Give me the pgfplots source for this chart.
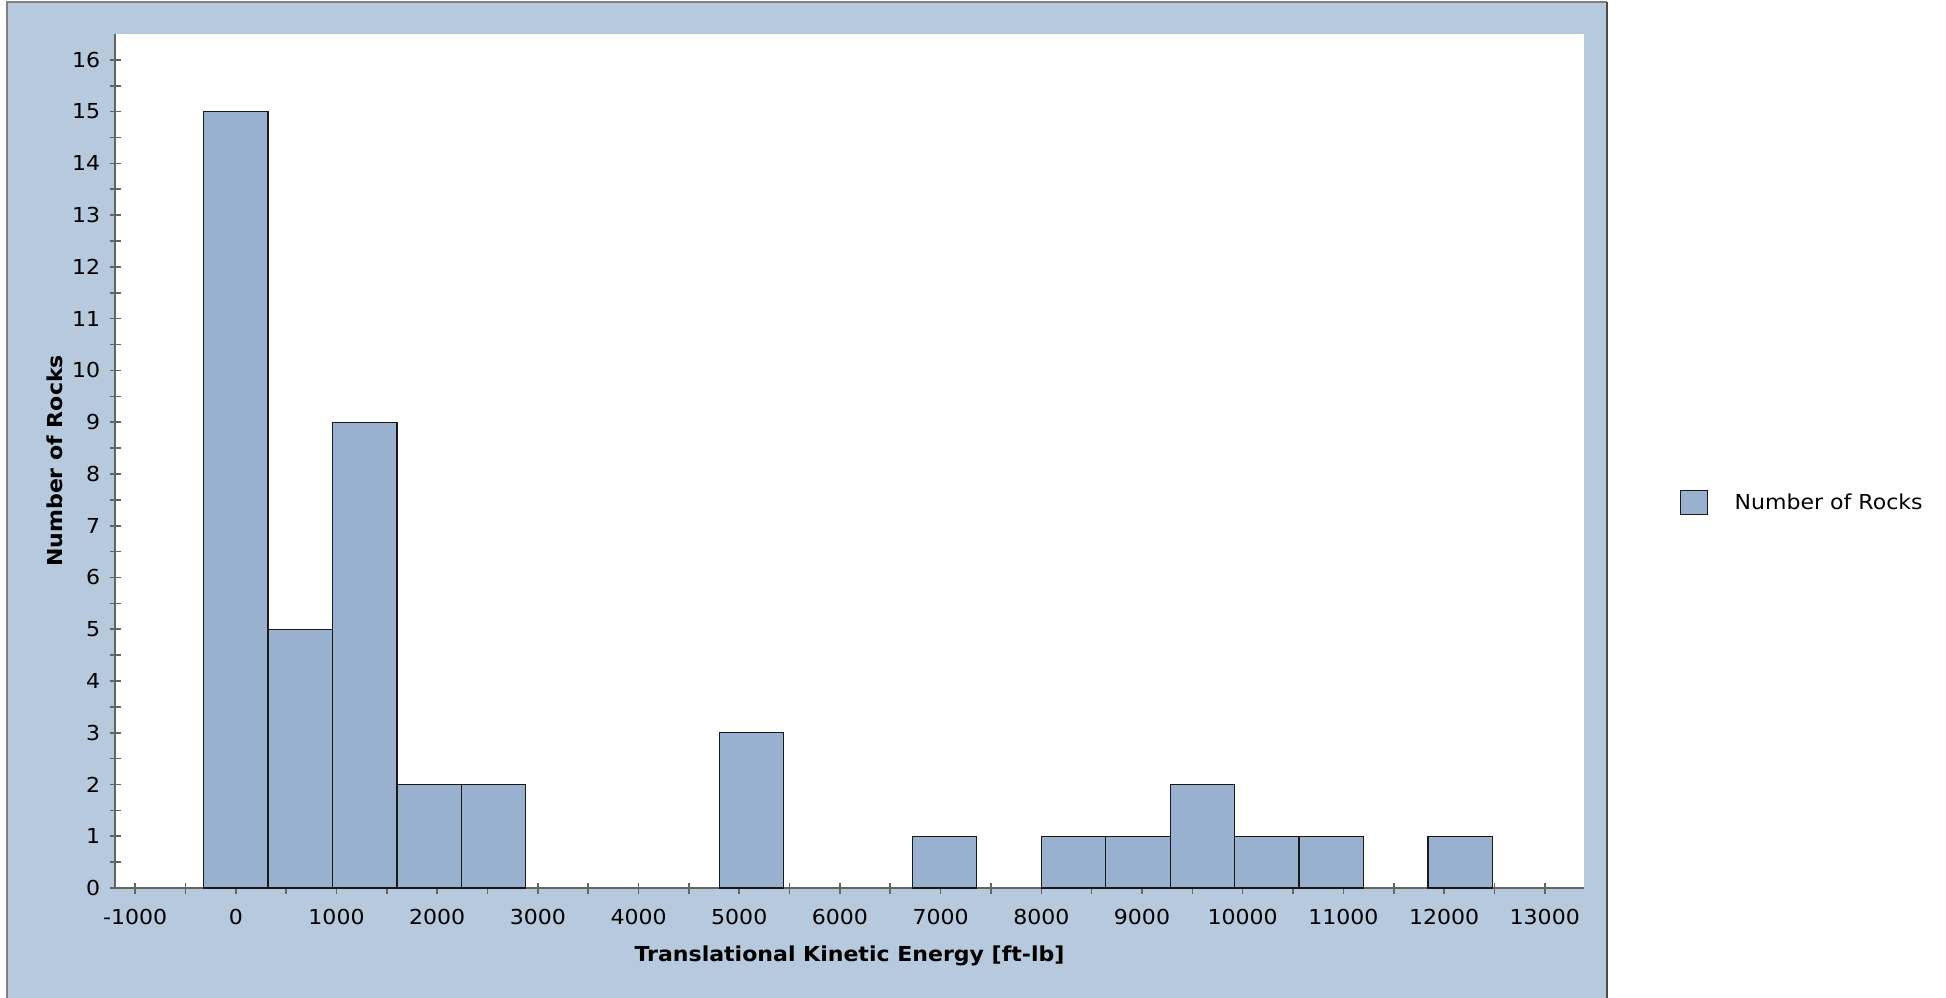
\documentclass[border=0pt]{standalone}
\usepackage{pgfplots}
\pgfplotsset{compat=1.18}
\usepackage{fontspec}
\setmainfont{DejaVu Sans}[FakeStretch=1.07]
\definecolor{panel}{RGB}{182,201,221}
\definecolor{barfill}{RGB}{153,176,206}
\definecolor{axgray}{RGB}{100,100,100}
\pgfplotsset{mylegend/.style={legend image code/.code={\draw[##1] (0pt,-6pt) rectangle (13.5pt,6pt); \path[draw=none,fill=none] (0pt,0pt) -- (27pt,0pt);}}}
\begin{document}
\fontsize{10.3}{12.4}\selectfont
\begin{tikzpicture}
\useasboundingbox (-57.5pt,-54.5pt) rectangle (915.5pt,444pt);
\fill[panel] (-54pt,-60pt) rectangle (746pt,443pt);
\draw[gray, line width=1pt] (-54pt,-60pt) -- (-54pt,443pt) -- (746pt,443pt);
\draw[black!70, line width=1.2pt] (746pt,443pt) -- (746pt,-60pt);
\begin{axis}[
  at={(0pt,0pt)}, anchor=south west,
  scale only axis, width=734.5pt, height=427pt,
  xmin=-1200, xmax=13390, ymin=0, ymax=16.5,
  axis lines*=left,
  axis line style={-, draw=axgray, line width=0.8pt},
  axis background/.style={fill=white},
  xtick={-1000,0,...,13000}, ytick={0,1,...,16},
  scaled x ticks=false,
  minor x tick num=1, minor y tick num=1,
  tick align=center, major tick length=5.5pt, minor tick length=5.5pt,
  tick style={draw=axgray, line width=0.8pt},
  /pgf/number format/assume math mode=true,
  /pgf/number format/1000 sep={},
  ticklabel style={font=\fontsize{10.3}{12}\selectfont},
  xticklabel style={yshift=-4pt},
  yticklabel style={xshift=-1pt},
  xlabel={\textbf{Translational Kinetic Energy [ft-lb]}},
  ylabel={\textbf{Number of Rocks}},
  xlabel style={at={(axis description cs:0.5,-0.0862)}, anchor=base},
  ylabel style={at={(axis description cs:-0.0354,0.5)}, anchor=base},
  legend style={at={(axis description cs:1.0654,0.451)}, anchor=west,
    draw=none, fill=none, inner sep=0pt, outer sep=0pt,
    nodes={inner sep=0pt}, font=\fontsize{10.3}{12}\selectfont},
  legend cell align=left,
]
\addplot[ybar, bar width=640, fill=barfill, draw=black!90, line width=0.6pt, mylegend]
  coordinates {(0,15) (640,5) (1280,9) (1920,2) (2560,2) (5120,3) (7040,1) (8320,1) (8960,1) (9600,2) (10240,1) (10880,1) (12160,1)};
\addlegendentry{Number of Rocks}
\end{axis}
\end{tikzpicture}
\end{document}
